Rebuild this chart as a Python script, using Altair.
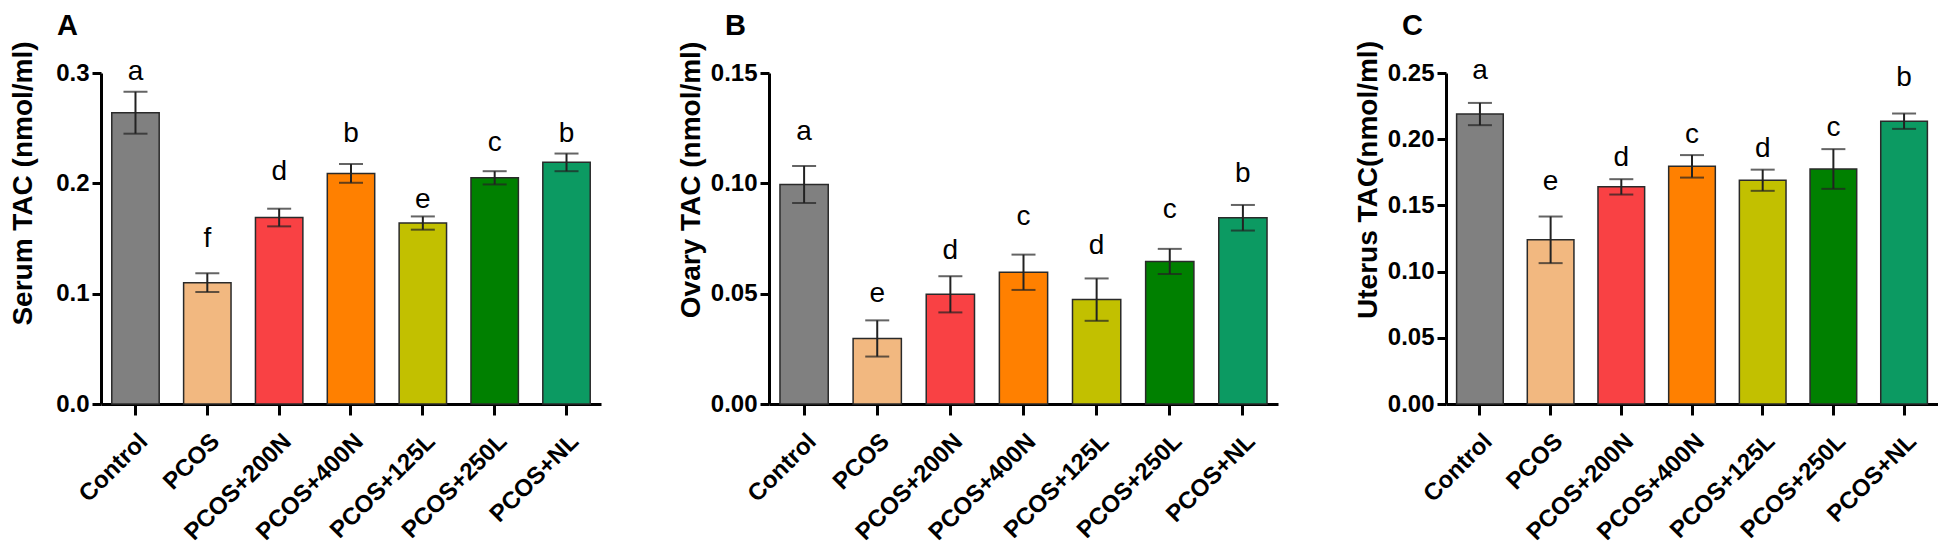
import altair as alt
import pandas as pd

groups = ["Control", "PCOS", "PCOS+200N", "PCOS+400N", "PCOS+125L", "PCOS+250L", "PCOS+NL"]
colors = ["#808080", "#F2B880", "#F94144", "#FF8000", "#C2C000", "#008000", "#0C9A62"]

# Panel A: Serum TAC
serum_mean = [0.264, 0.110, 0.169, 0.209, 0.164, 0.205, 0.219]
serum_err = [0.019, 0.0085, 0.008, 0.0085, 0.006, 0.006, 0.008]
serum_letters = ["a", "f", "d", "b", "e", "c", "b"]
serum_letter_y = [0.294, 0.142, 0.203, 0.2375, 0.1775, 0.2297, 0.2375]
serum_ticks = [0.0, 0.1, 0.2, 0.3]

# Panel B: Ovary TAC
ovary_mean = [0.0995, 0.0297, 0.0497, 0.0597, 0.0473, 0.0646, 0.0844]
ovary_err = [0.0084, 0.0082, 0.0082, 0.008, 0.0096, 0.0057, 0.0058]
ovary_letters = ["a", "e", "d", "c", "d", "c", "b"]
ovary_letter_y = [0.1195, 0.0461, 0.0659, 0.0813, 0.068, 0.0844, 0.1008]
ovary_ticks = [0.0, 0.05, 0.10, 0.15]

# Panel C: Uterus TAC
uterus_mean = [0.219, 0.124, 0.164, 0.1795, 0.169, 0.1775, 0.2136]
uterus_err = [0.0084, 0.0176, 0.0058, 0.0085, 0.008, 0.015, 0.0058]
uterus_letters = ["a", "e", "d", "c", "d", "c", "b"]
uterus_letter_y = [0.2453, 0.162, 0.1795, 0.1972, 0.1863, 0.2024, 0.2401]
uterus_ticks = [0.0, 0.05, 0.10, 0.15, 0.20, 0.25]

FONT = "Liberation Sans"


def panel(label, ytitle, means, errs, letters, letter_y, ticks, fmt, width, title_y):
    df = pd.DataFrame({
        "group": groups,
        "mean": means,
        "lo": [m - e for m, e in zip(means, errs)],
        "hi": [m + e for m, e in zip(means, errs)],
        "letter": letters,
        "ly": letter_y,
    })
    ymax = ticks[-1]
    xenc = alt.X(
        "group:N", sort=groups,
        scale=alt.Scale(paddingInner=0.34, paddingOuter=0.15),
        axis=alt.Axis(
            title=None, labelAngle=-45, labelAlign="right", labelBaseline="top",
            labelPadding=14, labelFontSize=24, labelFontWeight="bold",
            labelFont=FONT, labelColor="black", labelLimit=300, tickSize=11,
        ),
    )
    yscale = alt.Scale(domain=[0, ymax], nice=False, zero=True)
    yaxis = alt.Axis(
        title=ytitle, values=ticks, format=fmt, tickSize=9,
        labelFontSize=24, labelFontWeight="bold", labelFont=FONT, labelColor="black",
        labelPadding=3,
        titleFontSize=28, titleFontWeight="bold", titleFont=FONT, titleColor="black",
        titleAngle=-90, titleX=-64, titleY=title_y, titleAlign="center", titleBaseline="bottom",
    )
    base = alt.Chart(df)
    bars = base.mark_bar(stroke="#2a2a2a", strokeWidth=1.5).encode(
        x=xenc,
        y=alt.Y("mean:Q", scale=yscale, axis=yaxis),
        color=alt.Color("group:N", scale=alt.Scale(domain=groups, range=colors), legend=None),
    )
    err = base.mark_rule(color="#222222", strokeWidth=2).encode(
        x=alt.X("group:N", sort=groups), y="lo:Q", y2="hi:Q"
    )
    cap_lo = base.mark_tick(color="#222222", thickness=2, size=24).encode(
        x=alt.X("group:N", sort=groups), y="lo:Q"
    )
    cap_hi = base.mark_tick(color="#222222", thickness=2, size=24).encode(
        x=alt.X("group:N", sort=groups), y="hi:Q"
    )
    txt = base.mark_text(
        fontSize=28, font=FONT, color="black", baseline="alphabetic", align="center"
    ).encode(x=alt.X("group:N", sort=groups), y="ly:Q", text="letter:N")
    return alt.layer(bars, err, cap_lo, cap_hi, txt).properties(
        width=width, height=331,
        title=alt.TitleParams(
            label, anchor="start", frame="group", dx=-44, fontSize=29, fontWeight="bold",
            font=FONT, color="black", offset=0,
        ),
    )


pa = panel("A", "Serum TAC (nmol/ml)", serum_mean, serum_err, serum_letters,
           serum_letter_y, serum_ticks, ".1f", 500, 110)
pb = panel("B", "Ovary TAC (nmol/ml)", ovary_mean, ovary_err, ovary_letters,
           ovary_letter_y, ovary_ticks, ".2f", 509, 106.5)
pc = panel("C", "Uterus TAC(nmol/ml)", uterus_mean, uterus_err, uterus_letters,
           uterus_letter_y, uterus_ticks, ".2f", 492, 106.5)

chart = alt.hconcat(pa, pb, pc, spacing=75).properties(
    padding={"left": 0, "top": 3, "right": 0, "bottom": 0}
).configure_view(
    stroke=None
).configure_axis(
    grid=False, domainColor="black", domainWidth=3, tickColor="black", tickWidth=3,
)

chart.save("out.html", embed_options={"renderer": "svg", "actions": False})
